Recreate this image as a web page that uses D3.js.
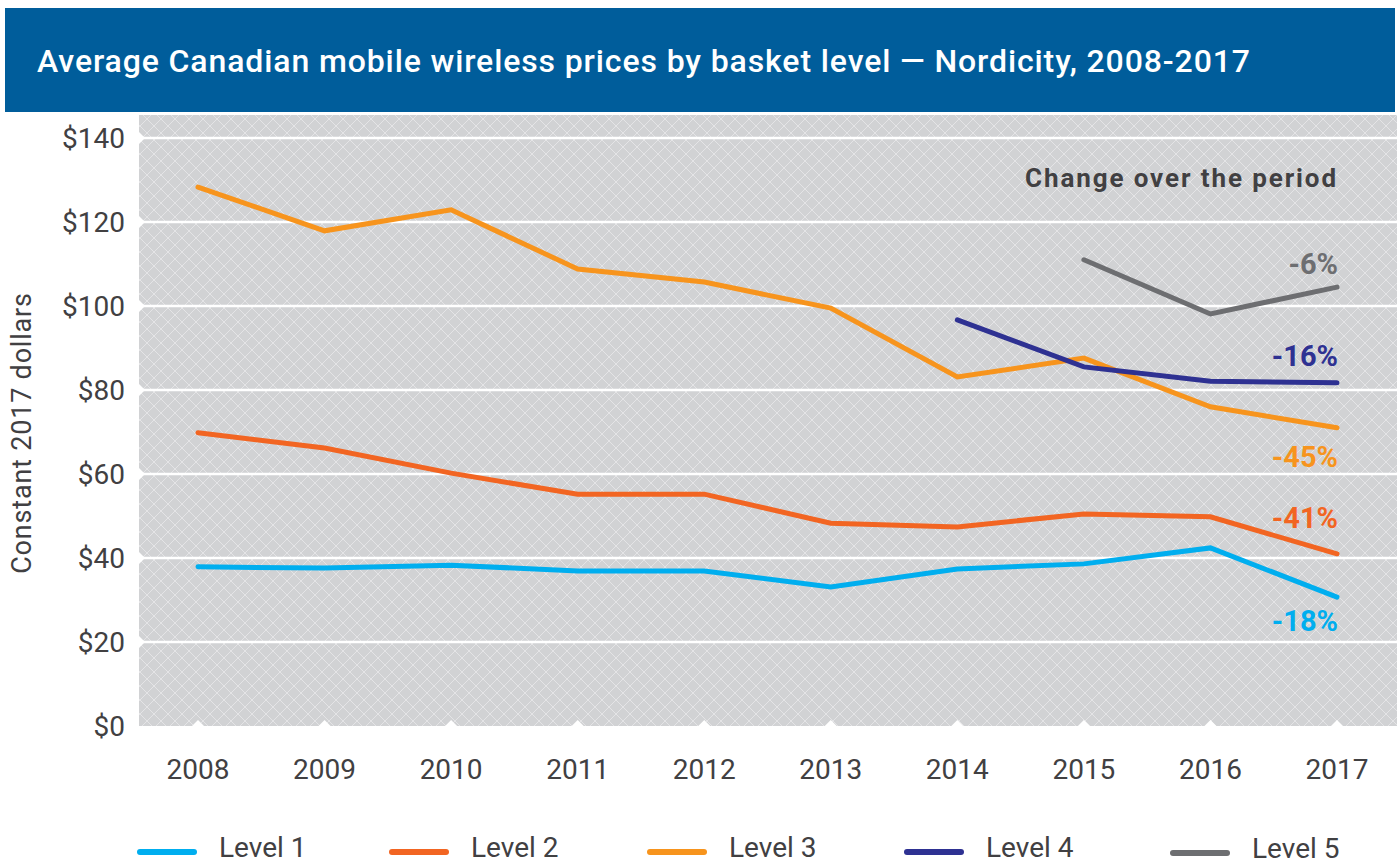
<!DOCTYPE html>
<html>
<head>
<meta charset="utf-8">
<script src="https://cdn.jsdelivr.net/npm/d3@7"></script>
<style>
	body { margin: 0; background: #fff; }
	text { font-family: Roboto, "Noto Sans", sans-serif; }
</style>
</head>
<body>
<script>
var years = [2008, 2009, 2010, 2011, 2012, 2013, 2014, 2015, 2016, 2017];
var yTicks = [0, 20, 40, 60, 80, 100, 120, 140];

var level1 = [37.9, 37.6, 38.3, 36.9, 36.9, 33.1, 37.4, 38.6, 42.4, 30.7];
var level2 = [69.8, 66.2, 60.2, 55.2, 55.2, 48.3, 47.4, 50.5, 49.8, 41.0];
var level3 = [128.3, 117.9, 122.9, 108.8, 105.7, 99.5, 83.1, 87.6, 76.0, 71.0];
var level4 = [null, null, null, null, null, null, 96.7, 85.5, 82.1, 81.7];
var level5 = [null, null, null, null, null, null, null, 111.0, 98.1, 104.5];

var seriesNames = ["Level 1", "Level 2", "Level 3", "Level 4", "Level 5"];
var changeLabels = ["-18%", "-41%", "-45%", "-16%", "-6%"];
var colors = ["#00aeef", "#f26522", "#f7941d", "#2e3192", "#6d6e71"];

var series = [level1, level2, level3, level4, level5];

var width = 1400, height = 865;
var plot = { left: 139, right: 1397, top: 115, bottom: 726 };

var svg = d3.select("body").append("svg")
			.attr("width", width)
			.attr("height", height);

// title bar
svg.append("rect")
	.attr("x", 5).attr("y", 8)
	.attr("width", 1390).attr("height", 104)
	.attr("fill", "#005d9b");

svg.append("text")
	.attr("x", 37).attr("y", 72)
	.attr("fill", "#fff")
	.attr("font-family", "Lato, 'Open Sans', sans-serif")
	.attr("font-weight", 500)
	.attr("font-size", 32)
	.attr("textLength", 1213)
	.attr("lengthAdjust", "spacing")
	.text("Average Canadian mobile wireless prices by basket level \u2014 Nordicity, 2008-2017");

var x = d3.scalePoint()
			.domain(years)
			.range([198, 1337]);

var y = d3.scaleLinear()
			.domain([0, 140])
			.range([plot.bottom, 138]);

// crosshatch fill
var defs = svg.append("defs");
var pat = defs.append("pattern")
				.attr("id", "hatch")
				.attr("patternUnits", "userSpaceOnUse")
				.attr("width", 14).attr("height", 14);
pat.append("rect").attr("width", 14).attr("height", 14).attr("fill", "#d1d2d4");
pat.append("path")
	.attr("d", "M0,0L14,14M14,0L0,14")
	.attr("stroke", "#e6e7e8")
	.attr("stroke-width", 0.9)
	.attr("fill", "none");

svg.append("rect")
	.attr("x", plot.left).attr("y", plot.top)
	.attr("width", plot.right - plot.left)
	.attr("height", plot.bottom - plot.top)
	.attr("fill", "url(#hatch)");

// gridlines
svg.selectAll(".grid")
	.data(yTicks.filter(function(d) { return d > 0; }))
	.enter()
	.append("line")
	.attr("x1", plot.left).attr("x2", plot.right)
	.attr("y1", function(d) { return y(d); })
	.attr("y2", function(d) { return y(d); })
	.attr("stroke", "#fff")
	.attr("stroke-width", 2.5);

// small notches at tick positions
svg.selectAll(".ynotch")
	.data(yTicks.filter(function(d) { return d > 0; }))
	.enter()
	.append("path")
	.attr("d", function(d) {
		var yy = y(d);
		return "M" + (plot.left - 1) + "," + (yy - 7) + "L" + (plot.left + 6) + "," + yy + "L" + (plot.left - 1) + "," + (yy + 7) + "Z";
	})
	.attr("fill", "#fff");

svg.selectAll(".xnotch")
	.data(years)
	.enter()
	.append("path")
	.attr("d", function(d) {
		var xx = x(d);
		return "M" + (xx - 7) + "," + (plot.bottom + 1) + "L" + xx + "," + (plot.bottom - 6) + "L" + (xx + 7) + "," + (plot.bottom + 1) + "Z";
	})
	.attr("fill", "#fff");

// axes labels
svg.selectAll(".ytick")
	.data(yTicks)
	.enter()
	.append("text")
	.attr("x", 125)
	.attr("y", function(d) { return y(d) + 10; })
	.attr("text-anchor", "end")
	.attr("font-size", 28)
	.attr("fill", "#414042")
	.text(function(d) { return "$" + d; });

svg.selectAll(".xtick")
	.data(years)
	.enter()
	.append("text")
	.attr("x", function(d) { return x(d); })
	.attr("y", 779)
	.attr("text-anchor", "middle")
	.attr("font-size", 28)
	.attr("fill", "#414042")
	.text(function(d) { return d; });

svg.append("text")
	.attr("transform", "translate(31,433) rotate(-90)")
	.attr("text-anchor", "middle")
	.attr("font-size", 27)
	.attr("letter-spacing", 0.8)
	.attr("fill", "#414042")
	.text("Constant 2017 dollars");

// lines
var line = d3.line()
			.defined(function(d) { return d != null; })
			.x(function(d, i) { return x(years[i]); })
			.y(function(d) { return y(d); });

svg.selectAll(".series")
	.data(series)
	.enter()
	.append("path")
	.attr("d", function(d) { return line(d); })
	.attr("stroke", function(d, i) { return colors[i]; })
	.attr("stroke-width", 5)
	.attr("stroke-linecap", "round")
	.attr("stroke-linejoin", "miter")
	.attr("fill", "none");

// change over the period
svg.append("text")
	.attr("x", 1338).attr("y", 187)
	.attr("text-anchor", "end")
	.attr("font-size", 26)
	.attr("font-weight", "bold")
	.attr("letter-spacing", 1.9)
	.attr("fill", "#414042")
	.text("Change over the period");

var labelY = [631, 528, 467, 366, 274];
svg.selectAll(".chg")
	.data(changeLabels)
	.enter()
	.append("text")
	.attr("x", 1338)
	.attr("y", function(d, i) { return labelY[i]; })
	.attr("text-anchor", "end")
	.attr("font-size", 29)
	.attr("font-weight", "bold")
	.attr("fill", function(d, i) { return colors[i]; })
	.text(function(d) { return d; });

// legend
var legX = [140, 392, 650, 907, 1173];
var legY = [852, 852, 852, 852, 853];
var legend = svg.selectAll(".leg")
				.data(seriesNames)
				.enter()
				.append("g");

legend.append("line")
	.attr("x1", function(d, i) { return legX[i]; })
	.attr("x2", function(d, i) { return legX[i] + 54; })
	.attr("y1", function(d, i) { return legY[i]; })
	.attr("y2", function(d, i) { return legY[i]; })
	.attr("stroke", function(d, i) { return colors[i]; })
	.attr("stroke-width", 6)
	.attr("stroke-linecap", "round");

legend.append("text")
	.attr("x", function(d, i) { return legX[i] + 79; })
	.attr("y", function(d, i) { return legY[i] + 5; })
	.attr("font-size", 28)
	.attr("fill", "#414042")
	.text(function(d) { return d; });
</script>
</body>
</html>
